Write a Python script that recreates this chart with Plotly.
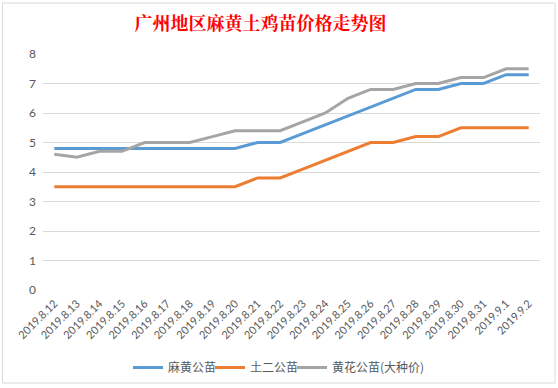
import plotly.graph_objects as go

dates = ["2019.8.12", "2019.8.13", "2019.8.14", "2019.8.15", "2019.8.16", "2019.8.17",
         "2019.8.18", "2019.8.19", "2019.8.20", "2019.8.21", "2019.8.22", "2019.8.23",
         "2019.8.24", "2019.8.25", "2019.8.26", "2019.8.27", "2019.8.28", "2019.8.29",
         "2019.8.30", "2019.8.31", "2019.9.1", "2019.9.2"]
mahuang = [4.8, 4.8, 4.8, 4.8, 4.8, 4.8, 4.8, 4.8, 4.8, 5.0, 5.0, 5.3,
           5.6, 5.9, 6.2, 6.5, 6.8, 6.8, 7.0, 7.0, 7.3, 7.3]
tuer = [3.5, 3.5, 3.5, 3.5, 3.5, 3.5, 3.5, 3.5, 3.5, 3.8, 3.8, 4.1,
        4.4, 4.7, 5.0, 5.0, 5.2, 5.2, 5.5, 5.5, 5.5, 5.5]
huanghua = [4.6, 4.5, 4.7, 4.7, 5.0, 5.0, 5.0, 5.2, 5.4, 5.4, 5.4, 5.7,
            6.0, 6.5, 6.8, 6.8, 7.0, 7.0, 7.2, 7.2, 7.5, 7.5]
names = ["麻黄公苗", "土二公苗", "黄花公苗(大种价)"]
colors = ["#5B9BD5", "#ED7D31", "#A5A5A5"]
legend_widths = [37, 37, 125]
yticks = [0, 1, 2, 3, 4, 5, 6, 7, 8]

W, H = 558, 388
L, R, T, B = 43, 18, 54, 98
pw, ph = W - L - R, H - T - B

font = "Lato, 'Noto Sans CJK SC', 'Noto Sans', sans-serif"

fig = go.Figure()
for name, vals, c, lw in zip(names, [mahuang, tuer, huanghua], colors, legend_widths):
    fig.add_trace(go.Scatter(x=dates, y=vals, mode="lines", name=name, legendwidth=lw,
                             line=dict(color=c, width=3)))

fig.update_layout(
    width=W, height=H,
    margin=dict(l=L, r=R, t=T, b=B, autoexpand=False),
    paper_bgcolor="white", plot_bgcolor="white",
    font=dict(family=font, color="#595959", size=12),
    title=dict(text="<b>广州地区麻黄土鸡苗价格走势图</b>", xref="container", yref="container",
               x=260.5 / W, xanchor="center", y=1 - 24 / H, yanchor="middle",
               font=dict(family="'Noto Serif CJK SC', 'Noto Sans CJK SC', serif", size=18, color="#FF0000")),
    showlegend=True,
    legend=dict(orientation="h", x=(128 - L) / pw, xanchor="left", y=-(353 - (T + ph)) / ph, yanchor="top",
                font=dict(family="'Noto Sans CJK SC', sans-serif", size=12, color="#595959"),
                itemwidth=30, tracegroupgap=0, bgcolor="rgba(0,0,0,0)"),
    shapes=[dict(type="rect", xref="paper", yref="paper",
                 x0=(2.5 - L) / pw, x1=(555 - L) / pw,
                 y0=-(383 - (T + ph)) / ph, y1=(T + ph - 3) / ph,
                 line=dict(color="#D9D9D9", width=1), fillcolor="rgba(0,0,0,0)")],
)
fig.update_xaxes(type="category", tickangle=-45, tickfont=dict(size=11, color="#595959"),
                 showgrid=False, showline=False, ticks="", automargin=False,
                 range=[-0.5, len(dates) - 0.5], ticklabelstandoff=4)
fig.update_yaxes(range=[0, 8], tickvals=yticks, showgrid=True, gridcolor="#D9D9D9", gridwidth=1,
                 zeroline=False, showline=False, ticks="", automargin=False,
                 tickfont=dict(size=12, color="#595959"), ticklabelstandoff=6)

fig.write_html("out.html", config={"displayModeBar": False},
               post_script="document.body.style.margin='0';")
